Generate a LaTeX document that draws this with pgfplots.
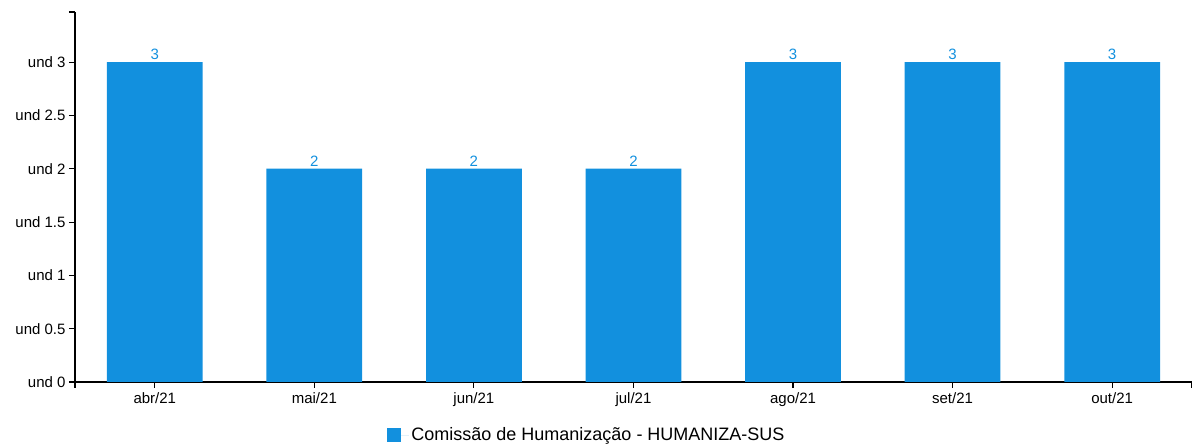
\documentclass[border=0pt]{standalone}
\usepackage{pgfplots}
\pgfplotsset{compat=1.18}
\usepackage{fontspec}
\setmainfont{Liberation Sans}
\definecolor{barblue}{HTML}{1290DE}
\begin{document}
\begin{tikzpicture}[x=1bp,y=1bp]
\path[use as bounding box] (-75,-63) rectangle (1119,382);
\begin{axis}[
  at={(0,0)}, anchor=south west,
  scale only axis, width=1117bp, height=370bp,
  xmin=-0.5, xmax=6.5, ymin=0, ymax=3.47,
  axis x line=bottom, axis y line=left,
  axis line style={-, line width=1.1pt, black},
  every tick/.style={black, line width=1.1pt},
  tick align=outside, major tick length=6bp,
  xtick={0,1,2,3,4,5,6},
  xticklabels={abr/21,mai/21,jun/21,jul/21,ago/21,set/21,out/21},
  ytick={0,0.5,1,1.5,2,2.5,3},
  yticklabels={und 0,und 0.5,und 1,und 1.5,und 2,und 2.5,und 3},
  extra x ticks={-0.5,6.5}, extra x tick labels={},
  extra y ticks={3.47}, extra y tick labels={},
  ticklabel style={font=\fontsize{15bp}{18bp}\selectfont, black},
  xticklabel style={yshift=-1bp},
  /pgf/number format/assume math mode=true,
  ybar, bar width=0.6,
  nodes near coords,
  nodes near coords style={font=\fontsize{15bp}{18bp}\selectfont, barblue, yshift=-1bp},
  legend style={at={(0.4584,-0.143)}, anchor=center, draw=none,
    font=\fontsize{18bp}{21bp}\selectfont, inner sep=0pt},
  legend image code/.code={\path (0bp,0bp) rectangle (22bp,0bp); \fill[barblue] (0bp,-7bp) rectangle (14bp,7bp);},
  clip=false,
]
\addplot[fill=barblue, draw=none] coordinates {(0,3) (1,2) (2,2) (3,2) (4,3) (5,3) (6,3)};
\addlegendentry{Comissão de Humanização - HUMANIZA-SUS}
\end{axis}
\end{tikzpicture}
\end{document}
